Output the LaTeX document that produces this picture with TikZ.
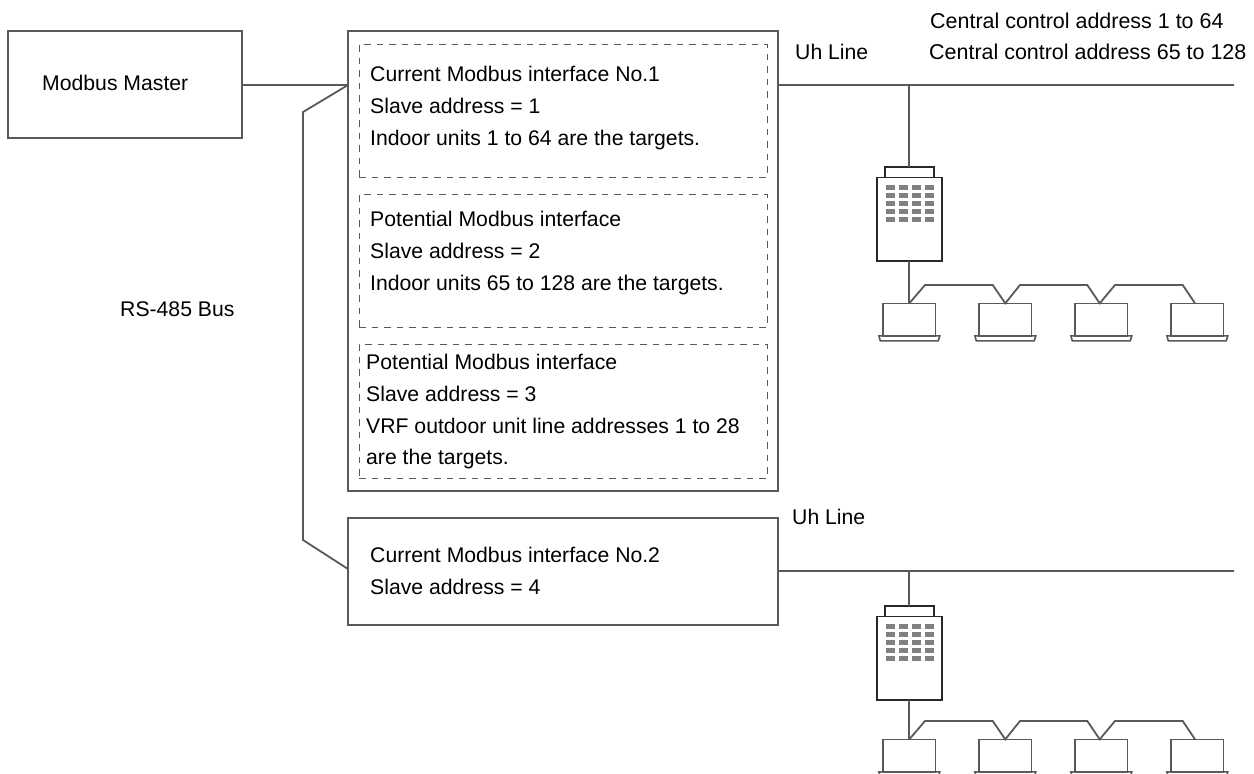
\documentclass[tikz,border=0pt]{standalone}
\usepackage{fontspec}
\setmainfont{Liberation Sans}
\usetikzlibrary{calc}
\definecolor{Wire}{HTML}{595959}
\definecolor{Shell}{HTML}{2E2626}
\definecolor{Win}{HTML}{7F7F7F}
\tikzset{
  wire/.style={Wire,line width=1.8pt},
  boxed/.style={draw=Wire,line width=1.8pt,anchor=north west,inner sep=0pt,outer sep=0pt},
  dashbox/.style={draw=Wire,line width=0.9pt,dash pattern=on 6.5pt off 6pt,anchor=north west,inner sep=0pt,outer sep=0pt},
  lab/.style={font=\fontsize{21.2}{24}\selectfont,anchor=west,inner sep=0pt,text height=18pt,text depth=4pt},
  shell/.style={draw=Shell,line width=1.8pt,fill=white,inner sep=0pt,outer sep=0pt},
  unitbox/.style={draw=Wire,line width=1.6pt,anchor=north,inner sep=0pt,outer sep=0pt,minimum width=52.5pt,minimum height=32.5pt},
}
\begin{document}
\begin{tikzpicture}[x=1pt,y=-1pt]
  \useasboundingbox (0,0) rectangle (1254,774);
  \clip (0,0) rectangle (1254,774);
  \node[boxed,minimum width=234pt,minimum height=107pt] (master) at (8,31) {};
  \node[boxed,minimum width=430pt,minimum height=460pt] (ifa) at (348,31) {};
  \node[boxed,minimum width=430pt,minimum height=107pt] (ifb) at (348,518) {};
  \node[dashbox,minimum width=408pt,minimum height=133pt] at (359,44) {};
  \node[dashbox,minimum width=408pt,minimum height=133pt] at (359,194) {};
  \node[dashbox,minimum width=408pt,minimum height=134pt] at (359,344) {};
  \node[lab] (mastertxt) at (42,83) {Modbus Master};
  \node[lab] (bustxt) at (120,309) {RS-485 Bus};
  \node[lab] (uha) at (795,52) {Uh Line};
  \node[lab] (uhb) at (792,517) {Uh Line};
  \node[lab,font=\fontsize{21.45}{24}\selectfont] (cca) at (930,21.5) {Central control address 1 to 64};
  \node[lab,font=\fontsize{21.45}{24}\selectfont] (ccb) at (929,52) {Central control address 65 to 128};
  \foreach \x/\y/\txt in {
    370/74/Current Modbus interface No.1,
    370/106/Slave address = 1,
    370/138/Indoor units 1 to 64 are the targets.,
    370/219/Potential Modbus interface,
    370/251/Slave address = 2,
    370/283/Indoor units 65 to 128 are the targets.,
    366/362/Potential Modbus interface,
    366/394/Slave address = 3,
    366/426/VRF outdoor unit line addresses 1 to 28,
    366/457/are the targets.,
    370/555/Current Modbus interface No.2,
    370/587/Slave address = 4} {
    \node[lab] at (\x,\y) {\txt};
  }
  % bus between master and interfaces
  \coordinate (busa) at (348,85);
  \coordinate (busb) at (303,112);
  \coordinate (busc) at (303,540);
  \coordinate (busd) at (348,569);
  \draw[wire] (busa -| master.east) -- (busa);
  \draw[wire] (busa) -- (busb) -- (busc) -- (busd);
  % the two refrigerant systems
  \foreach \g/\ln/\yo/\yu/\xe/\ifn in {1/84.7/0/0/1234/ifa,2/571.3/439/436/1234/ifb} {
    \coordinate (line\g) at (\xe,\ln);
    \draw[wire] (\ifn.east |- line\g) -- (line\g);
    \node[shell,minimum width=65pt,minimum height=83.5pt,anchor=north] (odu\g) at (909.3,177.5+\yo) {};
    \node[shell,minimum width=49pt,minimum height=10.5pt,anchor=south] (cap\g) at (odu\g.north) {};
    \draw[wire] (odu\g.south |- line\g) -- (cap\g.north);
    \foreach \c in {0,1,2,3} {
      \foreach \r in {0,1,2,3,4} {
        \fill[Win] ({886+13*\c},{184.5+8.2*\r+\yo}) rectangle ++(9,5);
      }
    }
    \foreach \u in {1,2,3,4} {
      \node[unitbox] (unit\g\u) at ({909.3+96*(\u-1)},303.3+\yu) {};
      \coordinate (base\g\u) at (unit\g\u.south);
      \draw[Wire,line width=1.6pt] ($(base\g\u)+(-30.5,0)$) -- ($(base\g\u)+(30.5,0)$) -- ($(base\g\u)+(29,5)$) -- ($(base\g\u)+(-29,5)$) -- cycle;
    }
    \draw[wire] (odu\g.south) -- (unit\g1.north);
    \coordinate (top\g) at (0,285+\yu);
    \draw[wire] (unit\g1.north) -- (925,0 |- top\g) -- (992.7,0 |- top\g) -- (unit\g2.north)
      -- (1020,0 |- top\g) -- (1087.3,0 |- top\g) -- ([xshift=-1.6pt]unit\g3.north)
      -- (1115,0 |- top\g) -- (1182.7,0 |- top\g) -- ([xshift=-2.3pt]unit\g4.north);
  }
\end{tikzpicture}
\end{document}
